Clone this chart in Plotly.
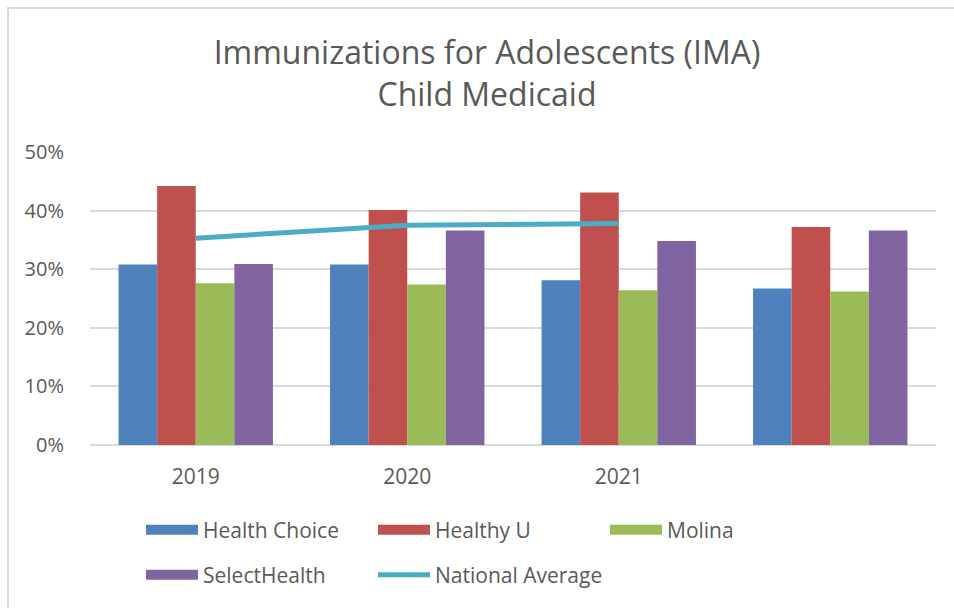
import plotly.graph_objects as go

categories = ["2019", "2020", "2021", ""]
health_choice = [0.308, 0.308, 0.281, 0.267]
healthy_u = [0.442, 0.401, 0.431, 0.372]
molina = [0.276, 0.274, 0.264, 0.262]
select_health = [0.309, 0.366, 0.348, 0.366]
national_average = [0.353, 0.375, 0.378]

series = [
    ("Health Choice", health_choice, "#4F81BD"),
    ("Healthy U", healthy_u, "#C0504D"),
    ("Molina", molina, "#9BBB59"),
    ("SelectHealth", select_health, "#8064A2"),
]
line_color = "#4BACC6"
text_color = "#595959"
font_family = "Open Sans"

W, H = 954, 608
L, R, T, B = 90, 18, 152, 163
plot_w = W - L - R
plot_h = H - T - B

xpos = list(range(len(categories)))

fig = go.Figure()
for name, vals, color in series:
    fig.add_trace(go.Bar(
        x=xpos, y=vals, name=name, marker=dict(color=color, line=dict(width=0)),
        showlegend=False, legendgroup=name,
    ))

fig.add_trace(go.Scatter(
    x=xpos[:len(national_average)], y=national_average, name="National Average",
    mode="lines", line=dict(color=line_color, width=5), showlegend=False,
    legendgroup="National Average",
))

# legend entries (wide swatches as in the reference)
legend_rows = {"Health Choice": "legend", "Healthy U": "legend", "Molina": "legend",
               "SelectHealth": "legend2"}
for name, vals, color in series:
    fig.add_trace(go.Scatter(
        x=[None], y=[None], name=name, mode="lines",
        line=dict(color=color, width=16), legendgroup=name,
        legend=legend_rows[name],
    ))
fig.add_trace(go.Scatter(
    x=[None], y=[None], name="National Average", mode="lines",
    line=dict(color=line_color, width=5), legendgroup="National Average",
    legend="legend2",
))

legend_common = dict(
    orientation="h", x=51 / plot_w, xanchor="left",
    yanchor="middle", entrywidth=165, entrywidthmode="pixels", itemwidth=52,
    font=dict(family=font_family, size=21, color=text_color),
    bgcolor="rgba(0,0,0,0)", itemclick=False, itemdoubleclick=False,
)

# chart border: only the top and left edges are inside the picture
x_left = (8 - L) / plot_w
y_top = (plot_h + T - 8) / plot_h
border_path = f"M {x_left},-0.8 L {x_left},{y_top} L 1.2,{y_top}"

fig.update_layout(
    width=W, height=H,
    margin=dict(l=L, r=R, t=T, b=B),
    paper_bgcolor="white", plot_bgcolor="white",
    barmode="group", bargap=0.27, bargroupgap=0,
    title=dict(
        text="Immunizations for Adolescents (IMA)<br>Child Medicaid",
        font=dict(family=font_family, size=32, color=text_color),
        xref="container", x=487 / W, xanchor="center",
        yref="container", y=1 - 64 / H, yanchor="top",
    ),
    font=dict(family=font_family, color=text_color),
    legend=dict(y=-85 / plot_h, **legend_common),
    legend2=dict(y=-130 / plot_h, **legend_common),
    xaxis=dict(
        tickmode="array", tickvals=xpos, ticktext=categories,
        range=[-0.5, len(categories) - 0.5], showgrid=False, zeroline=False,
        showline=False, ticks="", ticklabelstandoff=17,
        tickfont=dict(family=font_family, size=21, color=text_color),
        fixedrange=True,
    ),
    yaxis=dict(
        range=[0, 0.5], dtick=0.1, tickformat=".0%", showgrid=True,
        gridcolor="#D9D9D9", gridwidth=1.5, zeroline=True, zerolinecolor="#D9D9D9",
        zerolinewidth=1.5, showline=False, ticks="", ticklabelstandoff=25,
        tickfont=dict(family=font_family, size=20, color=text_color),
        fixedrange=True,
    ),
    shapes=[dict(
        type="path", xref="paper", yref="paper", path=border_path,
        line=dict(color="#D9D9D9", width=2), layer="below",
    )],
)

fig.write_html(
    "out.html",
    config={"displayModeBar": False},
    post_script="document.body.style.margin='0';document.body.style.overflow='hidden';",
)
